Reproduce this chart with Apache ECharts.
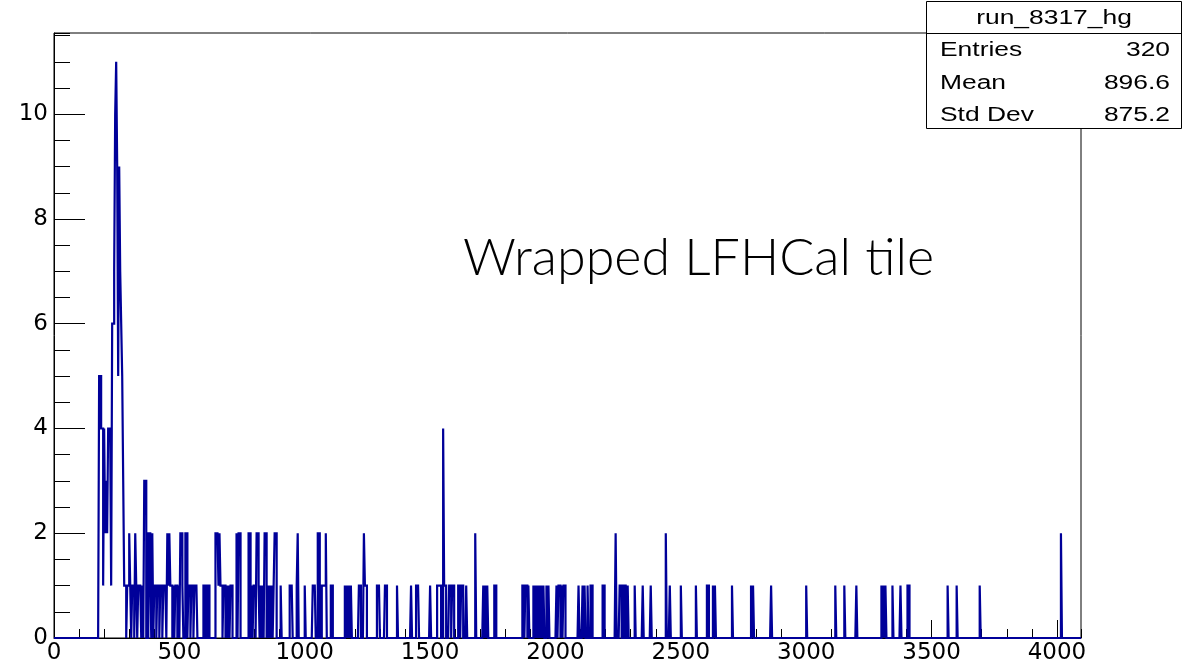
<!DOCTYPE html>
<html><head><meta charset="utf-8">
<script src="https://cdn.jsdelivr.net/npm/echarts@6/dist/echarts.min.js"></script>
<style>html,body{margin:0;padding:0;background:#fff}#c{width:1183px;height:671px}</style>
</head><body><div id="c"></div><script>
// ---- data ----
const histName = 'run_8317_hg';
const statLabels = ['Entries', 'Mean', 'Std Dev'];
const statValues = ['320', '896.6', '875.2'];
const annotation = 'Wrapped LFHCal tile';
const xRange = [0, 4096];
const xMajorStep = 500;
const xMinorStep = 100;
const yMajorStep = 2;
const yMinorStep = 0.5;
const binWidth = 4;
// lower edges of non-empty bins (ADC) and their counts
const binLow = [180,184,188,192,196,200,204,208,212,216,220,224,228,232,236,240,244,248,252,256,260,264,268,272,276,
280,284,292,296,300,304,312,316,324,328,336,340,344,352,360,364,
376,380,384,392,400,404,412,416,424,428,436,440,444,452,456,460,464,468,476,484,488,496,504,508,512,524,528,536,540,548,552,560,564,568,596,600,612,616,644,648,652,656,660,664,668,676,680,688,696,704,708,728,736,740,776,780,788,796,800,808,812,816,824,832,840,844,852,860,868,876,880,884,
904,940,944,948,968,972,1000,1032,1036,1040,1052,1056,1068,1072,1076,1080,1084,1104,1108,1160,1168,1176,1184,1216,1220,1236,1240,1244,1288,1292,1296,1320,1324,1368,1424,
1444,1448,1452,1500,1528,1532,1536,1540,1552,1556,1560,1576,1580,1588,1592,1612,1616,1624,1628,1644,1680,1712,1720,1728,1756,1760,1868,1872,1880,1884,1892,1912,1920,1928,1936,1944,1952,1964,1972,2004,
2012,2016,2024,2032,2036,2092,2108,2116,2128,2140,2144,2188,2192,2240,2256,2260,2272,2276,2288,2316,2348,2380,2440,2456,2500,2560,
2604,2608,2628,2636,2704,2780,2788,2860,3000,3116,3152,3200,3300,3308,
3316,3344,3376,3404,3408,3564,3600,3692,4016];
const binCount = [5,5,4,4,1,4,2,3,2,4,4,4,1,6,6,7,10,11,9,5,9,7,6,5,3,
1,1,1,1,2,1,1,1,2,1,1,1,1,1,3,3,
2,2,1,2,1,1,1,1,1,1,1,1,1,2,1,2,1,1,1,1,1,1,2,2,1,2,2,1,1,1,1,1,1,1,1,1,1,1,2,2,2,1,2,1,1,1,1,1,1,1,1,2,2,2,2,2,1,1,1,2,2,1,1,1,2,2,1,1,1,1,2,2,
1,1,1,1,1,2,1,1,1,1,2,2,1,1,1,1,2,1,1,1,1,1,1,1,1,2,1,1,1,1,1,1,1,1,1,
1,1,1,1,1,1,1,1,4,1,1,1,1,1,1,1,1,1,1,1,2,1,1,1,1,1,1,1,1,1,1,1,1,1,1,1,1,1,1,1,
1,1,1,1,1,1,1,1,1,1,1,1,1,2,1,1,1,1,1,1,1,1,2,1,1,1,
1,1,1,1,1,1,1,1,1,1,1,1,1,1,
1,1,1,1,1,1,1,1,2];

// ---- build histogram outline from the bins ----
const nBins = Math.round((xRange[1] - xRange[0]) / binWidth);
const counts = new Array(nBins).fill(0);
binLow.forEach((v, i) => { counts[Math.floor((v - xRange[0]) / binWidth)] += binCount[i]; });
const outline = [];
for (let i = 0; i < nBins; i++) {
  const lo = xRange[0] + i * binWidth;
  outline.push([lo, counts[i]]);
  outline.push([lo + binWidth, counts[i]]);
}
const yMax = Math.max(...counts) * 1.05;

const axisFont = 'DejaVu Sans';
const statFont = 'Liberation Sans';
const blue = '#000099';

const chart = echarts.init(document.getElementById('c'), null, {renderer: 'canvas'});
const statRowsY = [50, 83, 115];
const graphic = [
  {type: 'rect', z: 100, shape: {x: 926.5, y: 1.5, width: 255, height: 127}, style: {fill: '#fff', stroke: '#000', lineWidth: 1}},
  {type: 'line', z: 101, shape: {x1: 926.5, y1: 33.5, x2: 1181.5, y2: 33.5}, style: {stroke: '#000', lineWidth: 1}},
  {type: 'text', z: 102, x: 1054, y: 18, scaleX: 1.32, style: {text: histName, x: 0, y: 0, fill: '#000', font: '20px "' + statFont + '"', textAlign: 'center', textVerticalAlign: 'middle'}},
  {type: 'text', z: 10, x: 463, y: 259, scaleX: 1.02, style: {text: annotation, x: 0, y: 0, fill: '#000', font: '300 51px Lato', textAlign: 'left', textVerticalAlign: 'middle'}}
];
statLabels.forEach((lab, i) => {
  graphic.push({type: 'text', z: 102, x: 940, y: statRowsY[i], scaleX: 1.32, style: {text: lab, x: 0, y: 0, fill: '#000', font: '20px "' + statFont + '"', textAlign: 'left', textVerticalAlign: 'middle'}});
  graphic.push({type: 'text', z: 102, x: 1170, y: statRowsY[i], scaleX: 1.32, style: {text: statValues[i], x: 0, y: 0, fill: '#000', font: '20px "' + statFont + '"', textAlign: 'right', textVerticalAlign: 'middle'}});
});

const baseAxis = {
  type: 'value', splitLine: {show: false},
  axisLine: {show: true, onZero: false, lineStyle: {color: '#000', width: 1}}
};
const plain = v => String(Math.round(v * 100) / 100);
chart.setOption({
  animation: false,
  backgroundColor: '#fff',
  grid: {left: 54, top: 33, width: 1027, height: 605, show: true, borderColor: '#000', borderWidth: 1, backgroundColor: '#fff'},
  xAxis: [
    Object.assign({}, baseAxis, {position: 'bottom', min: xRange[0], max: xRange[1], interval: xMajorStep,
      axisTick: {show: true, inside: true, length: 18, lineStyle: {color: '#000', width: 1}},
      axisLabel: {show: true, showMaxLabel: false, margin: 4, color: '#000', fontFamily: axisFont, fontSize: 23, formatter: plain}}),
    Object.assign({}, baseAxis, {position: 'bottom', min: xRange[0], max: xRange[1], interval: xMinorStep,
      axisLine: {show: false},
      axisTick: {show: true, inside: true, length: 9, lineStyle: {color: '#000', width: 1}},
      axisLabel: {show: false}})
  ],
  yAxis: [
    Object.assign({}, baseAxis, {position: 'left', min: 0, max: yMax, interval: yMajorStep,
      axisTick: {show: true, inside: true, length: 31, lineStyle: {color: '#000', width: 1}},
      axisLabel: {show: true, showMaxLabel: false, margin: 6, color: '#000', fontFamily: axisFont, fontSize: 23, formatter: plain}}),
    Object.assign({}, baseAxis, {position: 'left', min: 0, max: yMax, interval: yMinorStep,
      axisLine: {show: false},
      axisTick: {show: true, inside: true, length: 16, lineStyle: {color: '#000', width: 1}},
      axisLabel: {show: false}})
  ],
  series: [{
    type: 'line', xAxisIndex: 0, yAxisIndex: 0, data: outline,
    symbol: 'none', showSymbol: false, silent: true, clip: true, sampling: null,
    lineStyle: {color: blue, width: 2.2, join: 'miter', cap: 'butt'}
  }],
  graphic: graphic
});
</script></body></html>
